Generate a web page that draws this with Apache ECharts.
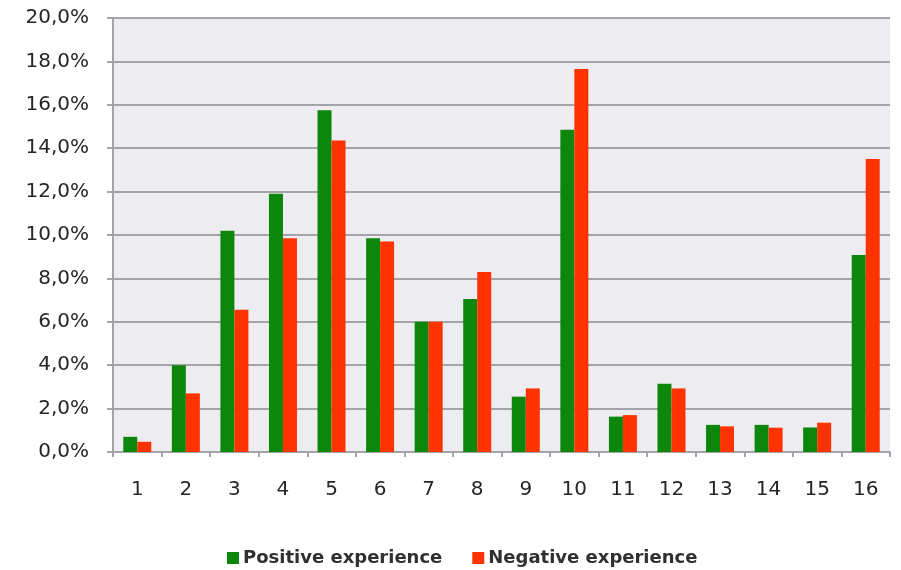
<!DOCTYPE html>
<html>
<head>
<meta charset="utf-8">
<script src="https://cdn.jsdelivr.net/npm/echarts@6/dist/echarts.min.js"></script>
<style>
  html, body { margin: 0; padding: 0; background: #ffffff; }
  #chart { width: 901px; height: 570px; }
</style>
</head>
<body>
<div id="chart"></div>
<script>
// Question numbers along the x axis
const categories = ['1','2','3','4','5','6','7','8','9','10','11','12','13','14','15','16'];
// Share of answers (%) per question
const positiveExperience = [0.7, 4.0, 10.2, 11.9, 15.75, 9.85, 6.0, 7.05, 2.55, 14.85, 1.63, 3.15, 1.25, 1.25, 1.13, 9.08];
const negativeExperience = [0.47, 2.7, 6.55, 9.85, 14.35, 9.7, 6.0, 8.3, 2.93, 17.65, 1.7, 2.93, 1.18, 1.12, 1.35, 13.5];
const seriesNames = ['Positive experience', 'Negative experience'];

const axisGrey = '#a4a4a8';
const labelColor = '#262626';

const chart = echarts.init(document.getElementById('chart'), null, { renderer: 'canvas' });
chart.setOption({
  animation: false,
  backgroundColor: '#ffffff',
  grid: {
    left: 113, right: 11, top: 18, bottom: 118,
    show: true, backgroundColor: '#ededf1', borderWidth: 0
  },
  legend: {
    top: 544,
    left: 222,
    itemWidth: 12,
    itemHeight: 12,
    itemGap: 30,
    icon: 'rect',
    textStyle: { fontFamily: 'DejaVu Sans', fontWeight: 'bold', fontSize: 18, color: '#303030', padding: [0, 0, 0, -1] },
    data: seriesNames
  },
  xAxis: {
    type: 'category',
    data: categories,
    boundaryGap: true,
    axisLine: { show: true, lineStyle: { color: axisGrey, width: 2 } },
    axisTick: { show: true, length: 5, alignWithLabel: false, lineStyle: { color: axisGrey, width: 2 } },
    axisLabel: { margin: 28, fontFamily: 'DejaVu Sans', fontSize: 20, color: labelColor }
  },
  yAxis: {
    type: 'value',
    min: 0, max: 20, interval: 2,
    axisLine: { show: true, lineStyle: { color: axisGrey, width: 2 } },
    axisTick: { show: true, length: 6, lineStyle: { color: axisGrey, width: 2 } },
    splitLine: { show: true, lineStyle: { color: axisGrey, width: 2 } },
    axisLabel: {
      margin: 24,
      fontFamily: 'DejaVu Sans', fontSize: 20, color: labelColor,
      formatter: v => v.toFixed(1).replace('.', ',') + '%'
    }
  },
  series: [
    {
      name: seriesNames[0], type: 'bar', data: positiveExperience,
      barWidth: 14, barGap: '0%',
      itemStyle: { color: '#0c870c' }
    },
    {
      name: seriesNames[1], type: 'bar', data: negativeExperience,
      barWidth: 14, barGap: '0%',
      itemStyle: { color: '#ff3300' }
    }
  ]
});
</script>
</body>
</html>
